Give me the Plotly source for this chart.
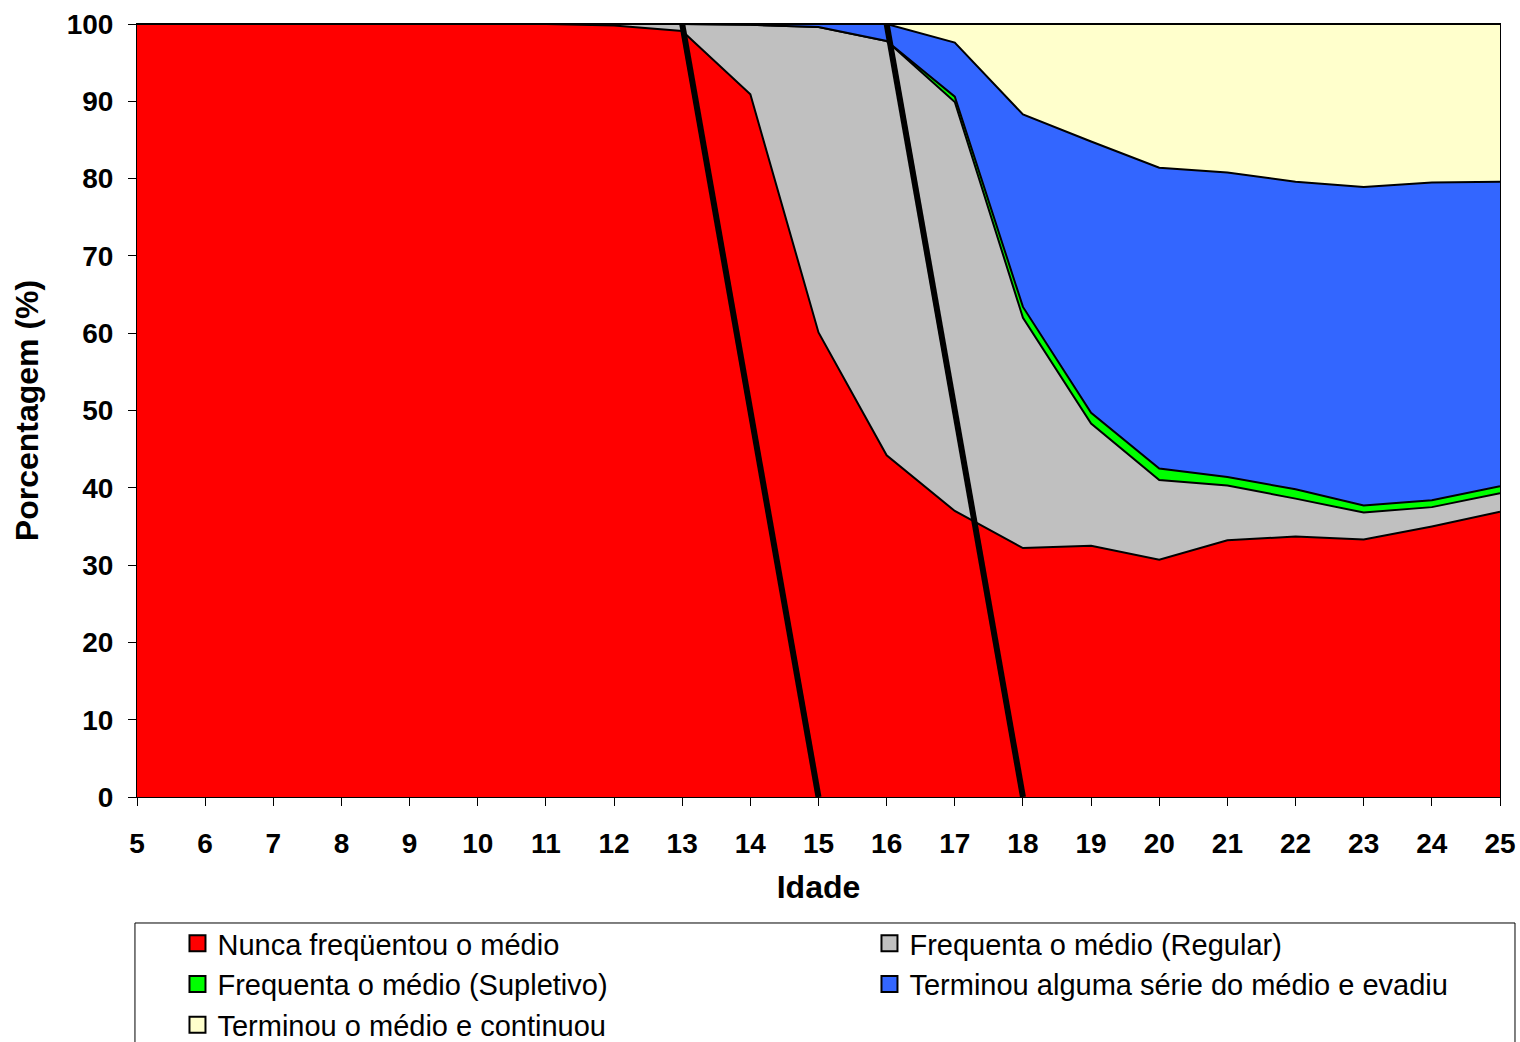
import plotly.graph_objects as go

ages = list(range(5, 26))

nunca = [100, 100, 100, 100, 100, 100, 100, 99.8, 99.1, 90.9, 60.1, 44.2, 37.0, 32.2, 32.5, 30.7, 33.2, 33.7, 33.3, 35.0, 36.9]
regular = [0, 0, 0, 0, 0, 0, 0, 0.2, 0.9, 9.0, 39.5, 53.6, 52.9, 29.8, 15.8, 10.3, 7.1, 4.9, 3.5, 2.5, 2.4]
supletivo = [0, 0, 0, 0, 0, 0, 0, 0, 0, 0, 0, 0, 0.7, 1.4, 1.4, 1.5, 1.1, 1.2, 0.9, 0.9, 0.9]
evadiu = [0, 0, 0, 0, 0, 0, 0, 0, 0, 0.1, 0.4, 2.2, 7.0, 24.9, 35.1, 38.9, 39.4, 39.8, 41.2, 41.1, 39.4]
continuou = [0, 0, 0, 0, 0, 0, 0, 0, 0, 0, 0, 0, 2.4, 11.7, 15.2, 18.6, 19.2, 20.4, 21.1, 20.5, 20.4]

names = ["Nunca freqüentou o médio", "Frequenta o médio (Regular)",
         "Frequenta o médio (Supletivo)", "Terminou alguma série do médio e evadiu",
         "Terminou o médio e continuou"]
colors = ["#FF0000", "#C0C0C0", "#00FF00", "#3366FF", "#FFFFCC"]
series = [nunca, regular, supletivo, evadiu, continuou]
legend_column = ["legend", "legend2", "legend", "legend2", "legend"]

# cohort lines (age, percent)
coorte1_x = [13, 15]
coorte1_y = [100, 0]
coorte2_x = [16, 18]
coorte2_y = [100, 0]

FONT = "Arial, Liberation Sans, sans-serif"

fig = go.Figure()
for name, col, vals in zip(names, colors, series):
    fig.add_trace(go.Scatter(
        x=ages, y=vals, stackgroup="one", mode="lines",
        line=dict(color="black", width=2), fillcolor=col,
        name=name, showlegend=False, hoverinfo="skip"))

for cx, cy in [(coorte1_x, coorte1_y), (coorte2_x, coorte2_y)]:
    fig.add_trace(go.Scatter(x=cx, y=cy, mode="lines",
                             line=dict(color="black", width=6),
                             showlegend=False, hoverinfo="skip"))

for name, col, lg in zip(names, colors, legend_column):
    fig.add_trace(go.Scatter(
        x=[None], y=[None], mode="markers", name=name, legend=lg,
        marker=dict(symbol="square", size=17, color=col,
                    line=dict(color="black", width=2))))

leg_common = dict(orientation="v", yanchor="top", xanchor="left",
                  font=dict(size=29, family=FONT), bgcolor="rgba(0,0,0,0)",
                  itemsizing="trace", traceorder="normal")

fig.update_layout(
    width=1520, height=1042,
    margin=dict(l=137, r=20, t=24, b=245, autoexpand=False),
    paper_bgcolor="white", plot_bgcolor="white",
    font=dict(family=FONT, color="black"),
    legend=dict(x=0.0297, y=-0.1564, **leg_common),
    legend2=dict(x=0.5374, y=-0.1564, **leg_common),
    xaxis=dict(range=[5, 25], tickmode="linear", tick0=5, dtick=1,
               showgrid=False, zeroline=False, showline=True, linecolor="black",
               linewidth=1, mirror=True, ticks="outside", ticklen=8, tickcolor="black",
               ticklabelstandoff=13,
               tickfont=dict(size=28, family=FONT, weight="bold"),
               title=dict(text="<b>Idade</b>", font=dict(size=32, family=FONT), standoff=18)),
    yaxis=dict(range=[0, 100], tickmode="linear", tick0=0, dtick=10,
               showgrid=False, zeroline=False, showline=True, linecolor="black",
               linewidth=1, mirror=True, ticks="outside", ticklen=8, tickcolor="black",
               ticklabelstandoff=9,
               tickfont=dict(size=28, family=FONT, weight="bold"),
               title=dict(text="<b>Porcentagem (%)</b>", font=dict(size=32, family=FONT), standoff=18)),
    shapes=[dict(type="rect", xref="paper", yref="paper",
                 x0=-0.0015, x1=1.011, y0=-0.163, y1=-0.33,
                 line=dict(color="black", width=1), fillcolor="rgba(0,0,0,0)", layer="below")],
)

fig.write_html("out.html", config={"displayModeBar": False},
               post_script="document.body.style.margin='0';document.body.style.overflow='hidden';")
